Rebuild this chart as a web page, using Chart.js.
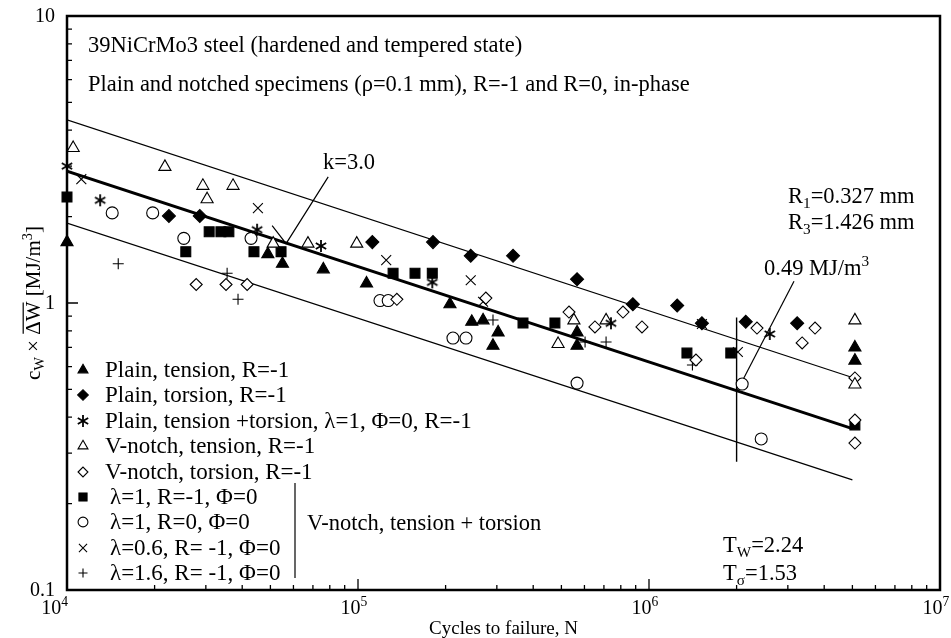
<!DOCTYPE html>
<html>
<head>
<meta charset="utf-8">
<script src="https://cdn.jsdelivr.net/npm/chart.js@4.4.1/dist/chart.umd.min.js"></script>
<style>
  html, body { margin: 0; padding: 0; background: #fff; }
</style>
</head>
<body>
<canvas id="chart" width="951" height="638"></canvas>
<script>
// cycles to failure (N) and c_W * dW [MJ/m3] for each test series
var plainTensionN = [1.0e4, 4.9e4, 5.5e4, 7.6e4, 1.07e5, 2.07e5, 2.46e5, 2.69e5, 3.03e5, 2.91e5, 5.66e5, 5.66e5, 5.1e6, 5.1e6];
var plainTensionW = [1.63, 1.48, 1.37, 1.31, 1.17, 0.99, 0.86, 0.87, 0.79, 0.71, 0.79, 0.71, 0.70, 0.63];

var plainTorsionN = [2.24e4, 2.86e4, 1.12e5, 1.81e5, 2.44e5, 3.41e5, 5.66e5, 8.8e5, 1.25e6, 1.52e6, 2.15e6, 3.23e6];
var plainTorsionW = [2.01, 2.01, 1.63, 1.63, 1.46, 1.46, 1.21, 0.99, 0.98, 0.85, 0.86, 0.85];

var plainMixedN = [1.0e4, 1.3e4, 4.5e4, 7.46e4, 1.8e5, 7.4e5, 2.6e6];
var plainMixedW = [3.00, 2.28, 1.80, 1.58, 1.18, 0.85, 0.78];

var notchTensionN = [1.05e4, 2.17e4, 2.93e4, 3.72e4, 3.03e4, 5.11e4, 6.73e4, 9.9e4, 5.52e5, 4.87e5, 7.12e5, 5.1e6, 5.1e6];
var notchTensionW = [3.47, 2.98, 2.56, 2.56, 2.30, 1.61, 1.61, 1.61, 0.87, 0.72, 0.87, 0.87, 0.52];

var notchTorsionN = [2.78e4, 3.52e4, 4.16e4, 1.36e5, 2.75e5, 5.31e5, 6.52e5, 8.14e5, 9.46e5, 1.45e6, 2.35e6, 3.72e6, 3.36e6, 5.1e6, 5.1e6, 5.1e6];
var notchTorsionW = [1.16, 1.16, 1.16, 1.03, 1.04, 0.93, 0.825, 0.93, 0.825, 0.633, 0.818, 0.818, 0.726, 0.548, 0.391, 0.325];

var lam1RmN = [1.0e4, 2.56e4, 3.08e4, 3.38e4, 3.60e4, 4.39e4, 5.44e4, 1.32e5, 1.57e5, 1.80e5, 3.69e5, 4.75e5, 1.35e6, 1.91e6, 5.1e6];
var lam1RmW = [2.34, 1.51, 1.77, 1.77, 1.77, 1.51, 1.51, 1.27, 1.27, 1.27, 0.852, 0.852, 0.669, 0.669, 0.376];

var lam1R0N = [1.43e4, 1.97e4, 2.52e4, 4.29e4, 1.19e5, 1.27e5, 2.12e5, 2.35e5, 5.66e5, 2.09e6, 2.43e6];
var lam1R0W = [2.06, 2.06, 1.68, 1.68, 1.02, 1.02, 0.755, 0.755, 0.526, 0.522, 0.336];

var lam06N = [1.12e4, 4.53e4, 1.25e5, 2.44e5, 2.69e5, 1.52e6, 2.02e6];
var lam06W = [2.70, 2.14, 1.41, 1.20, 1.01, 0.845, 0.675];

var lam16N = [1.50e4, 3.55e4, 3.87e4, 2.91e5, 6.03e5, 7.12e5, 1.41e6];
var lam16W = [1.37, 1.27, 1.03, 0.873, 0.731, 0.731, 0.608];

// scatter band (k = 3.0, T_W = 2.24) and reference lines
var meanLineN = [1.0e4, 5.0e6];
var meanLineW = [2.88, 0.365];
var upperLineN = [1.0e4, 5.0e6];
var upperLineW = [4.35, 0.55];
var lowerLineN = [1.0e4, 5.0e6];
var lowerLineW = [1.90, 0.242];
var refLineN = [2.0e6, 2.0e6];
var refLineW = [0.89, 0.28];
var kLeaderN = [5.07e4, 5.66e4, 7.9e4];
var kLeaderW = [1.86, 1.61, 2.75];
var wLeaderN = [3.15e6, 2.0e6];
var wLeaderW = [1.19, 0.49];

var xDecades = [1e4, 1e5, 1e6, 1e7];
var xDecadeExp = ['4', '5', '6', '7'];
var yDecades = [10, 1, 0.1];
var yDecadeLabels = ['10', '1', '0.1'];

var FONT = '"Liberation Serif", "Times New Roman", serif';

function pairs(xs, ys) {
	var out = [];
	for (var i = 0; i < xs.length; i++)
		out.push({x: xs[i], y: ys[i]});
	return out;
}

// six-armed asterisk marker
function asteriskImage(r) {
	var c = document.createElement('canvas');
	var s = 2 * Math.ceil(r) + 4;
	c.width = s;
	c.height = s;
	var g = c.getContext('2d');
	g.strokeStyle = '#000';
	g.lineWidth = 1.8;
	g.translate(s / 2, s / 2);
	for (var a = 0; a < 3; a++) {
		var ang = Math.PI / 2 + a * Math.PI / 3;
		g.beginPath();
		g.moveTo(-r * Math.cos(ang), -r * Math.sin(ang));
		g.lineTo(r * Math.cos(ang), r * Math.sin(ang));
		g.stroke();
	}
	return c;
}

function markerSet(label, xs, ys, style, radius, filled) {
	return {
		label: label,
		data: pairs(xs, ys),
		pointStyle: style,
		pointRadius: radius,
		pointBackgroundColor: filled ? '#000' : '#fff',
		pointBorderColor: '#000',
		pointBorderWidth: 1.1,
		showLine: false,
		clip: false,
		order: 1
	};
}

function lineSet(xs, ys, width) {
	return {
		label: '',
		data: pairs(xs, ys),
		showLine: true,
		borderColor: '#000',
		borderWidth: width,
		pointRadius: 0,
		fill: false,
		order: 10,
		isLine: true
	};
}

// draws text made of normal, sub- and superscript pieces
function drawRich(ctx, parts, x, y, size, align) {
	var widths = [], total = 0;
	parts.forEach(function(p) {
		ctx.font = (p[1] ? size * 0.68 : size) + 'px ' + FONT;
		var w = ctx.measureText(p[0]).width;
		widths.push(w);
		total += w;
	});
	var cx = x;
	if (align == 'center') cx = x - total / 2;
	else if (align == 'right') cx = x - total;
	ctx.textAlign = 'left';
	ctx.textBaseline = 'alphabetic';
	parts.forEach(function(p, i) {
		ctx.font = (p[1] ? size * 0.68 : size) + 'px ' + FONT;
		var dy = p[1] == 'sub' ? size * 0.2 : (p[1] == 'sup' ? -size * 0.4 : 0);
		ctx.fillText(p[0], cx, y + dy);
		if (p[2]) {
			ctx.beginPath();
			ctx.lineWidth = 1.2;
			ctx.moveTo(cx + 1, y - size * 0.8);
			ctx.lineTo(cx + widths[i] - 1, y - size * 0.8);
			ctx.stroke();
		}
		cx += widths[i];
	});
	return total;
}

var notes = [
	{parts: [['39NiCrMo3 steel (hardened and tempered state)']], x: 88, y: 52},
	{parts: [['Plain and notched specimens (\u03c1=0.1 mm), R=-1 and R=0, in-phase']], x: 88, y: 91},
	{parts: [['k=3.0']], x: 323, y: 169},
	{parts: [['R'], ['1', 'sub'], ['=0.327 mm']], x: 788, y: 203},
	{parts: [['R'], ['3', 'sub'], ['=1.426 mm']], x: 788, y: 229},
	{parts: [['0.49 MJ/m'], ['3', 'sup']], x: 764, y: 275},
	{parts: [['T'], ['W', 'sub'], ['=2.24']], x: 723, y: 552},
	{parts: [['T'], ['\u03c3', 'sub'], ['=1.53']], x: 723, y: 580},
	{parts: [['V-notch, tension + torsion']], x: 307, y: 530}
];

var framePlugin = {
	id: 'frame',
	afterDatasetsDraw: function(chart) {
		var ctx = chart.ctx;
		var a = chart.chartArea;
		var xs = chart.scales.x, ys = chart.scales.y;
		ctx.save();
		ctx.strokeStyle = '#000';
		ctx.fillStyle = '#000';

		// inward ticks, 1..9 in every decade
		ctx.lineWidth = 1.3;
		ctx.beginPath();
		for (var e = 4; e < 7; e++) {
			for (var m = 1; m < 10; m++) {
				var px = xs.getPixelForValue(m * Math.pow(10, e));
				var len = m == 1 ? 11 : 5;
				ctx.moveTo(px, a.bottom);
				ctx.lineTo(px, a.bottom - len);
			}
		}
		for (var e2 = -1; e2 < 1; e2++) {
			for (var m2 = 1; m2 < 10; m2++) {
				var py = ys.getPixelForValue(m2 * Math.pow(10, e2));
				var len2 = m2 == 1 ? 11 : 5;
				ctx.moveTo(a.left, py);
				ctx.lineTo(a.left + len2, py);
			}
		}
		ctx.stroke();

		ctx.lineWidth = 2.5;
		ctx.strokeRect(a.left, a.top, a.right - a.left, a.bottom - a.top);

		// tick labels
		ctx.font = '20px ' + FONT;
		ctx.textAlign = 'right';
		ctx.textBaseline = 'middle';
		yDecades.forEach(function(v, i) {
			ctx.fillText(yDecadeLabels[i], a.left - 12, ys.getPixelForValue(v) + 1);
		});
		xDecades.forEach(function(v, i) {
			var px = xs.getPixelForValue(v);
			drawRich(ctx, [['10'], [xDecadeExp[i], 'sup']], i == 0 ? px + 1 : px - 4, a.bottom + 24, 20, i == 0 ? 'right' : 'center');
		});

		// axis titles
		ctx.fillStyle = '#000';
		drawRich(ctx, [['Cycles to failure, N']], (a.left + a.right) / 2, 634, 19, 'center');
		ctx.save();
		ctx.translate(40, (a.top + a.bottom) / 2);
		ctx.rotate(-Math.PI / 2);
		drawRich(ctx, [['c'], ['W', 'sub'], [' \u00d7 '], ['\u0394W', '', true], [' [MJ/m'], ['3', 'sup'], [']']], 0, 0, 21, 'center');
		ctx.restore();

		// annotations
		notes.forEach(function(n) {
			drawRich(ctx, n.parts, n.x, n.y, 22.5, 'left');
		});

		// legend from the marker datasets
		var draw = Chart.helpers && Chart.helpers.drawPoint;
		var row = 0;
		chart.data.datasets.forEach(function(ds) {
			if (ds.isLine) return;
			var yy = 370 + row * 25.4;
			ctx.fillStyle = ds.pointBackgroundColor;
			ctx.strokeStyle = '#000';
			ctx.lineWidth = 1.1;
			if (draw)
				draw(ctx, {pointStyle: ds.pointStyle, radius: ds.pointRadius * 0.82, rotation: 0, borderWidth: 1.1}, 83, Math.round(yy));
			ctx.fillStyle = '#000';
			drawRich(ctx, [[ds.label]], row < 5 ? 105 : 110, yy + 7, 23, 'left');
			row++;
		});
		ctx.lineWidth = 1.2;
		ctx.beginPath();
		ctx.moveTo(295, 483);
		ctx.lineTo(295, 578);
		ctx.stroke();
		ctx.restore();
	}
};

new Chart(document.getElementById('chart'), {
	type: 'scatter',
	data: {
		datasets: [
			markerSet('Plain, tension, R=-1', plainTensionN, plainTensionW, 'triangle', 7, true),
			markerSet('Plain, torsion, R=-1', plainTorsionN, plainTorsionW, 'rectRot', 6.5, true),
			markerSet('Plain, tension +torsion, \u03bb=1, \u03a6=0, R=-1', plainMixedN, plainMixedW, asteriskImage(6), 6, false),
			markerSet('V-notch, tension, R=-1', notchTensionN, notchTensionW, 'triangle', 7, false),
			markerSet('V-notch, torsion, R=-1', notchTorsionN, notchTorsionW, 'rectRot', 6, false),
			markerSet('\u03bb=1, R=-1, \u03a6=0', lam1RmN, lam1RmW, 'rect', 7, true),
			markerSet('\u03bb=1, R=0, \u03a6=0', lam1R0N, lam1R0W, 'circle', 6, false),
			markerSet('\u03bb=0.6, R= -1, \u03a6=0', lam06N, lam06W, 'crossRot', 7, false),
			markerSet('\u03bb=1.6, R= -1, \u03a6=0', lam16N, lam16W, 'cross', 5.5, false),
			lineSet(meanLineN, meanLineW, 2.8),
			lineSet(upperLineN, upperLineW, 1.2),
			lineSet(lowerLineN, lowerLineW, 1.2),
			lineSet(refLineN, refLineW, 1.4),
			lineSet(kLeaderN, kLeaderW, 1.2),
			lineSet(wLeaderN, wLeaderW, 1.2)
		]
	},
	options: {
		responsive: false,
		animation: false,
		events: [],
		layout: {padding: {left: 0, right: 11, top: 16, bottom: 0}},
		plugins: {legend: {display: false}, tooltip: {enabled: false}},
		scales: {
			x: {
				type: 'logarithmic',
				min: 1e4,
				max: 1e7,
				ticks: {display: false},
				grid: {display: false},
				border: {display: false},
				afterFit: function(s) { s.height = 48; }
			},
			y: {
				type: 'logarithmic',
				min: 0.1,
				max: 10,
				ticks: {display: false},
				grid: {display: false},
				border: {display: false},
				afterFit: function(s) { s.width = 67; }
			}
		}
	},
	plugins: [framePlugin]
});
</script>
</body>
</html>
